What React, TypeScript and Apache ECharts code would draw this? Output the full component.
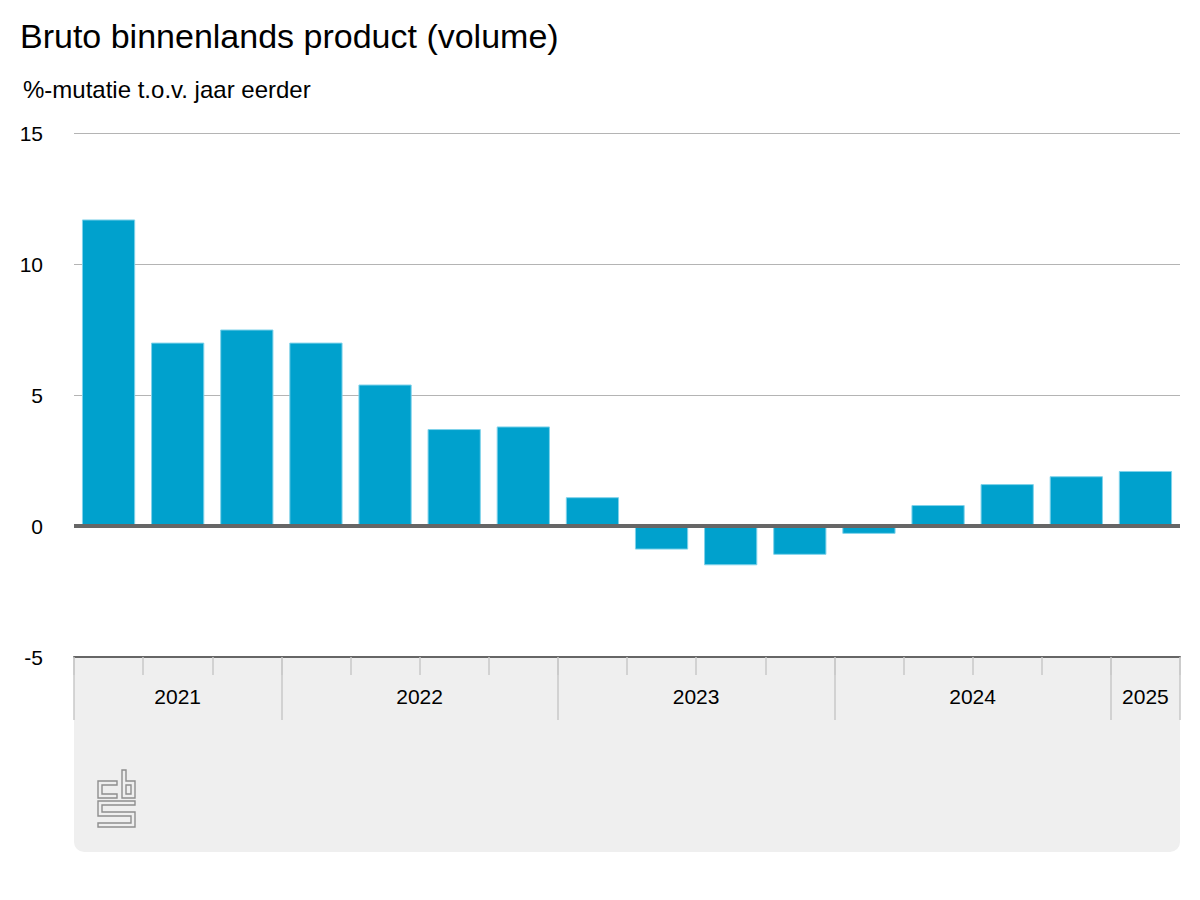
import React, { useEffect, useRef } from "react";
import * as echarts from "echarts";

const quarters = [
  "2021 Q2", "2021 Q3", "2021 Q4",
  "2022 Q1", "2022 Q2", "2022 Q3", "2022 Q4",
  "2023 Q1", "2023 Q2", "2023 Q3", "2023 Q4",
  "2024 Q1", "2024 Q2", "2024 Q3", "2024 Q4",
  "2025 Q1",
];
const bbpGrowth = [11.7, 7.0, 7.5, 7.0, 5.4, 3.7, 3.8, 1.1, -0.9, -1.5, -1.1, -0.3, 0.8, 1.6, 1.9, 2.1];
const yearStartIndex = [0, 3, 7, 11, 15];
const yearLabelPos = [1.5, 5, 9, 13, 15.5];
const yearLabels = ["2021", "2022", "2023", "2024", "2025"];
const yTicks = { min: -5, max: 15, interval: 5 };

const FONT = "Arial, 'Liberation Sans', Helvetica, sans-serif";

const GRID = { left: 74, right: 20, top: 133, bottom: 243 };

let logoRegistered = false;

export default function App() {
  const ref = useRef<HTMLDivElement>(null);

  useEffect(() => {
    if (!ref.current) return;
    document.body.style.margin = "0";
    if (!logoRegistered) {
      echarts.graphic.registerShape(
        "cbsLogo",
        echarts.graphic.extendPath(
          "M98 801 L135 801 L135 805 L102 805 L102 812 L135 812 L135 827 L98 827 L98 823 L131 823 L131 816 L98 816 Z " +
            "M117 781 L98 781 L98 798 L117 798 L117 794 L102 794 L102 785 L117 785 Z " +
            "M122 770 L126 770 L126 781 L135 781 L135 798 L122 798 Z " +
            "M126 785 L131 785 L131 794 L126 794 Z",
          {}
        )
      );
      logoRegistered = true;
    }
    const chart = echarts.init(ref.current, undefined, { renderer: "svg" });
    const labelMap: Record<string, string> = {};
    yearLabelPos.forEach((p, i) => (labelMap[String(p)] = yearLabels[i]));

    chart.setOption({
      animation: false,
      backgroundColor: "#ffffff",
      textStyle: { fontFamily: FONT },
      title: [
        {
          text: "Bruto binnenlands product (volume)",
          left: 15,
          top: 14,
          textStyle: { fontFamily: FONT, fontSize: 34, fontWeight: "normal", color: "#000" },
        },
        {
          text: "%-mutatie t.o.v. jaar eerder",
          left: 18,
          top: 72,
          textStyle: { fontFamily: FONT, fontSize: 24, fontWeight: "normal", color: "#000" },
        },
      ],
      grid: { ...GRID, containLabel: false },
      graphic: [
        {
          type: "rect",
          z: -10,
          shape: { x: 74, y: 657, width: 1106, height: 195, r: [0, 0, 10, 10] },
          style: { fill: "#efefef" },
        },
        {
          type: "cbsLogo",
          z: -5,
          x: 0,
          y: 0,
          style: { fill: "transparent", stroke: "#8f8f8f", lineWidth: 1.4 },
        },
      ],
      xAxis: [
        {
          type: "category",
          data: quarters,
          position: "bottom",
          z: 10,
          axisLine: { show: true, onZero: false, lineStyle: { color: "#666666", width: 2 } },
          axisTick: { show: true, interval: 0, length: 18, lineStyle: { color: "#c8c8c8", width: 1.5 } },
          axisLabel: { show: false },
          splitLine: { show: false },
        },
        {
          type: "category",
          data: quarters,
          position: "bottom",
          z: 9,
          axisLine: { show: false, onZero: false },
          axisTick: {
            show: true,
            interval: (index: number) => yearStartIndex.indexOf(index) >= 0,
            length: 63,
            lineStyle: { color: "#c8c8c8", width: 1.5 },
          },
          axisLabel: { show: false },
          splitLine: { show: false },
        },
        {
          type: "value",
          min: 0,
          max: 16,
          interval: 0.5,
          position: "bottom",
          z: 11,
          axisLine: { show: false, onZero: false },
          axisTick: { show: false },
          splitLine: { show: false },
          axisLabel: {
            show: true,
            margin: 29,
            fontSize: 21,
            color: "#000",
            fontFamily: FONT,
            hideOverlap: false,
            showMinLabel: true,
            showMaxLabel: true,
            formatter: (v: number) => labelMap[String(v)] || "",
          },
        },
      ],
      yAxis: {
        type: "value",
        min: yTicks.min,
        max: yTicks.max,
        interval: yTicks.interval,
        axisLine: { show: false },
        axisTick: { show: false },
        axisLabel: { margin: 31, fontSize: 21, color: "#000", fontFamily: FONT },
        splitLine: { show: true, lineStyle: { color: "#b4b4b4", width: 1 } },
      },
      series: [
        {
          type: "bar",
          xAxisIndex: 0,
          data: bbpGrowth,
          barCategoryGap: "23%",
          itemStyle: { color: "#00a1cd", borderColor: "#7fd2ea", borderWidth: 1 },
          markLine: {
            silent: true,
            symbol: "none",
            label: { show: false },
            lineStyle: { color: "#666666", width: 4, type: "solid" },
            data: [{ yAxis: 0 }],
          },
        },
      ],
    });
    return () => chart.dispose();
  }, []);

  return <div ref={ref} style={{ width: 1200, height: 900 }} />;
}
